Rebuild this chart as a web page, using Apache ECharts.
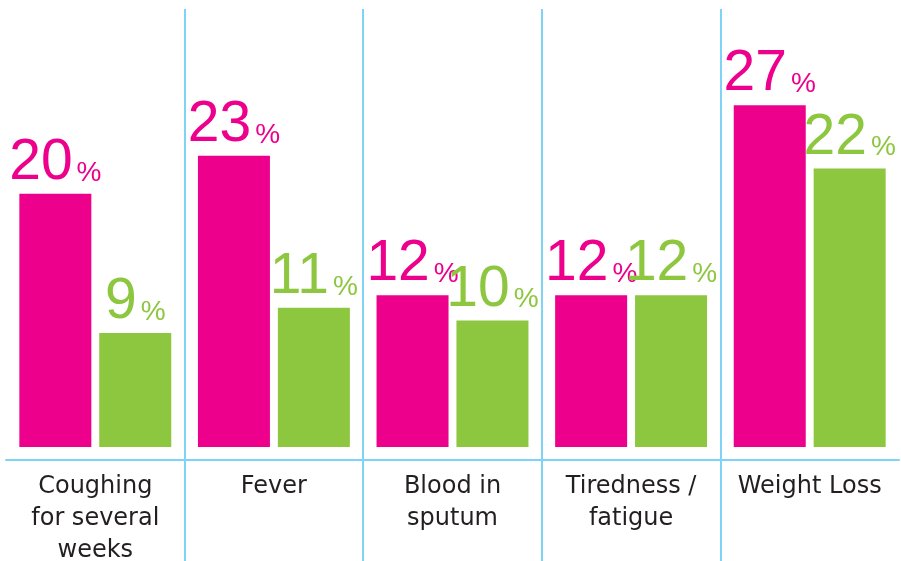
<!DOCTYPE html>
<html>
<head>
<meta charset="utf-8">
<script src="https://cdn.jsdelivr.net/npm/echarts@6/dist/echarts.min.js"></script>
<style>
  html, body { margin: 0; padding: 0; background: #ffffff; }
  #chart { width: 901px; height: 561px; }
</style>
</head>
<body>
<div id="chart"></div>
<script>
// Symptom categories and the two percentage series
const categories = ['Coughing\nfor several\nweeks', 'Fever', 'Blood in\nsputum', 'Tiredness /\nfatigue', 'Weight Loss'];
const seriesA = [20, 23, 12, 12, 27];
const seriesB = [9, 11, 10, 12, 22];

const MAGENTA = '#ec008c';
const GREEN = '#8dc63f';
const BLUE = '#7fd3f7';
const TEXT = '#231f20';

function valueLabel(color) {
  return {
    show: true,
    position: 'top',
    distance: 2,
    formatter: p => '{n|' + p.value + '}{p|%}',
    rich: {
      n: { fontFamily: 'Liberation Sans', fontSize: 57, lineHeight: 57, color: color, verticalAlign: 'bottom' },
      p: { fontFamily: 'Liberation Sans', fontSize: 28, lineHeight: 28, color: color, verticalAlign: 'bottom', padding: [0, 0, 5, 4] }
    }
  };
}

const chart = echarts.init(document.getElementById('chart'), null, { renderer: 'canvas' });
chart.setOption({
  animation: false,
  backgroundColor: '#ffffff',
  grid: { left: 6, right: 2, top: 9, bottom: 0, containLabel: false, outerBoundsMode: 'none' },
  xAxis: {
    type: 'category',
    data: categories,
    boundaryGap: true,
    offset: -101,
    axisLine: { show: true, onZero: false, lineStyle: { color: BLUE, width: 2 } },
    axisTick: { show: false },
    axisLabel: {
      interval: 0,
      margin: 11,
      fontFamily: 'DejaVu Sans',
      fontSize: 24,
      lineHeight: 32,
      color: TEXT
    },
    splitLine: {
      show: true,
      showMinLine: false,
      showMaxLine: false,
      lineStyle: { color: BLUE, width: 2 }
    }
  },
  yAxis: {
    type: 'value',
    min: -9,
    max: 34.6,
    show: false,
    splitLine: { show: false }
  },
  series: [
    {
      type: 'bar',
      data: seriesA,
      barWidth: 72,
      barGap: '11%',
      itemStyle: { color: MAGENTA },
      label: valueLabel(MAGENTA)
    },
    {
      type: 'bar',
      data: seriesB,
      barWidth: 72,
      itemStyle: { color: GREEN },
      label: valueLabel(GREEN)
    }
  ]
});
</script>
</body>
</html>
